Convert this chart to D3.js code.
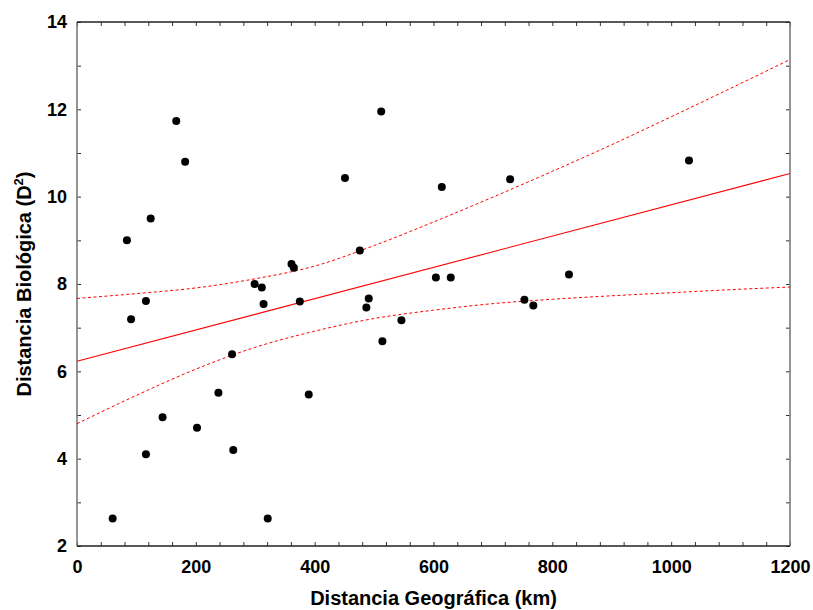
<!DOCTYPE html>
<html>
<head>
<meta charset="utf-8">
<script src="https://cdn.jsdelivr.net/npm/d3@7"></script>
<style>
  html, body { margin: 0; padding: 0; background: #fff; }
  svg { display: block; font-family: "Liberation Sans", Arial, sans-serif; }
</style>
</head>
<body>
<svg id="chart" width="813" height="610"></svg>
<script>
// ---- data ----
const distX = [60, 84, 91, 116, 116, 124, 144, 167, 182, 202, 238, 261, 263, 299, 311, 314, 321,
               361, 365, 375, 390, 451, 476, 487, 491, 512, 514, 546, 604, 614, 629, 729, 753, 768, 828, 1030];
const distY = [2.63, 9.00, 7.19, 7.61, 4.10, 9.50, 4.95, 11.73, 10.80, 4.71, 5.51, 6.39, 4.20, 8.00, 7.92, 7.54, 2.63,
               8.46, 8.37, 7.60, 5.47, 10.43, 8.77, 7.46, 7.67, 11.95, 6.69, 7.17, 8.15, 10.22, 8.15, 10.40, 7.64, 7.51, 8.22, 10.83];

const fitX = [0, 1200];
const fitY = [6.23, 10.53];

const bandX = [0, 100, 200, 300, 400, 500, 600, 700, 800, 900, 1000, 1100, 1200];
const upperY = [7.67, 7.78, 7.91, 8.12, 8.41, 8.88, 9.42, 9.99, 10.58, 11.19, 11.83, 12.48, 13.14];
const lowerY = [4.80, 5.45, 6.05, 6.55, 6.92, 7.21, 7.40, 7.55, 7.65, 7.73, 7.80, 7.87, 7.93];

const xTickLabels = [0, 200, 400, 600, 800, 1000, 1200];
const yTickLabels = [2, 4, 6, 8, 10, 12, 14];

const xTitle = "Distancia Geográfica (km)";
const yTitle = "Distancia Biológica (D";

// ---- layout ----
const svg = d3.select("#chart");
const L = 77, R = 790, T = 22, B = 546;

const x = d3.scaleLinear().domain([0, 1200]).range([L, R]);
const y = d3.scaleLinear().domain([2, 14]).range([B, T]);

const xMinor = d3.range(0, 1201, 40);
const yMinor = d3.range(2, 14.01, 1);

// bottom axis (ticks inward) with labels
const gx = svg.append("g").attr("transform", `translate(0,${B})`)
  .call(d3.axisBottom(x).tickValues(xMinor).tickSizeInner(-4).tickSizeOuter(0).tickPadding(14)
    .tickFormat(d => xTickLabels.includes(d) ? d : ""));
// top axis ticks
const gxt = svg.append("g").attr("transform", `translate(0,${T})`)
  .call(d3.axisTop(x).tickValues(xMinor).tickSizeInner(-4).tickSizeOuter(0).tickFormat(""));
// left axis
const gy = svg.append("g").attr("transform", `translate(${L},0)`)
  .call(d3.axisLeft(y).tickValues(yMinor).tickSizeInner(-4).tickSizeOuter(0).tickPadding(10)
    .tickFormat(d => yTickLabels.includes(d) ? d : ""));
// right axis
const gyr = svg.append("g").attr("transform", `translate(${R},0)`)
  .call(d3.axisRight(y).tickValues(yMinor).tickSizeInner(-4).tickSizeOuter(0).tickFormat(""));

[gx, gxt, gy, gyr].forEach(g => {
  g.select(".domain").remove();
  g.selectAll(".tick line").attr("stroke", "#333").attr("stroke-width", 1);
  g.selectAll(".tick text").attr("fill", "#000").attr("font-size", 18).attr("font-weight", "bold")
    .attr("font-family", "'Liberation Sans', Arial, sans-serif");
});

// frame
svg.append("line").attr("x1", L).attr("x2", L).attr("y1", T).attr("y2", B)
  .attr("stroke", "#7a7a7a").attr("stroke-width", 1.6);
svg.append("line").attr("x1", R).attr("x2", R).attr("y1", T).attr("y2", B)
  .attr("stroke", "#7a7a7a").attr("stroke-width", 1.6);
svg.append("line").attr("x1", L).attr("x2", R).attr("y1", T).attr("y2", T)
  .attr("stroke", "#222").attr("stroke-width", 1.5);
svg.append("line").attr("x1", L).attr("x2", R).attr("y1", B).attr("y2", B)
  .attr("stroke", "#222").attr("stroke-width", 1.5);

// regression line
const line = d3.line().x(d => x(d[0])).y(d => y(d[1]));
svg.append("path").datum(fitX.map((v, i) => [v, fitY[i]]))
  .attr("d", line).attr("fill", "none").attr("stroke", "#ff0000").attr("stroke-width", 1.1);

// confidence bands
const curve = d3.line().x(d => x(d[0])).y(d => y(d[1])).curve(d3.curveMonotoneX);
[upperY, lowerY].forEach(arr => {
  svg.append("path").datum(bandX.map((v, i) => [v, arr[i]]))
    .attr("d", curve).attr("fill", "none").attr("stroke", "#ff0000")
    .attr("stroke-width", 1).attr("stroke-dasharray", "3,2.5");
});

// points
svg.append("g").selectAll("circle").data(distX.map((v, i) => [v, distY[i]]))
  .join("circle")
  .attr("cx", d => x(d[0])).attr("cy", d => y(d[1])).attr("r", 4).attr("fill", "#000");

// titles
svg.append("text").attr("x", (L + R) / 2).attr("y", 605).attr("text-anchor", "middle")
  .attr("font-size", 20).attr("font-weight", "bold").text(xTitle);

const yt = svg.append("text").attr("transform", `translate(31,${(T + B) / 2}) rotate(-90)`)
  .attr("text-anchor", "middle").attr("font-size", 20).attr("font-weight", "bold");
yt.append("tspan").text(yTitle);
yt.append("tspan").attr("font-size", 13).attr("dy", -8).text("2");
yt.append("tspan").attr("dy", 8).text(")");
</script>
</body>
</html>
